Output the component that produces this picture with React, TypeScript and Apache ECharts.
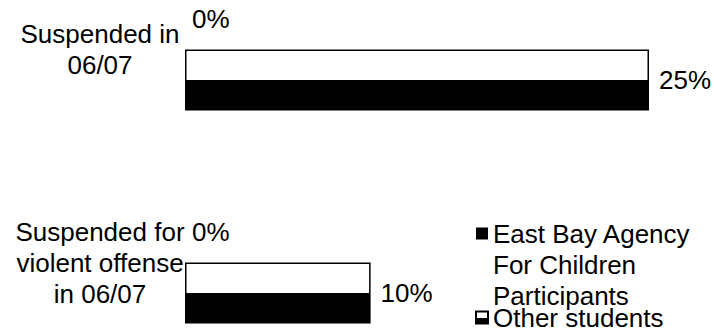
import React, { useEffect, useRef } from "react";
import * as echarts from "echarts";

// Suspension outcomes for 2006/07
const categories = ["Suspended in\n06/07", "Suspended for\nviolent offense\nin 06/07"];
const seriesNames = ["East Bay Agency\nFor Children\nParticipants", "Other students"];
const participantValues = [0, 0];
const otherStudentValues = [25, 10];

const FONT = "'Liberation Sans', Arial, sans-serif";

export default function App() {
  const ref = useRef<HTMLDivElement>(null);

  useEffect(() => {
    document.body.style.margin = "0";
    if (!ref.current) return;
    const chart = echarts.init(ref.current, undefined, { renderer: "svg" });

    // upper half white, lower half black
    const halfFill = {
      type: "linear",
      x: 0,
      y: 0,
      x2: 0,
      y2: 1,
      colorStops: [
        { offset: 0, color: "#ffffff" },
        { offset: 0.5, color: "#ffffff" },
        { offset: 0.5, color: "#000000" },
        { offset: 1, color: "#000000" },
      ],
    };

    chart.setOption({
      animation: false,
      backgroundColor: "#ffffff",
      textStyle: { fontFamily: FONT, color: "#000" },
      grid: {
        left: 185,
        right: 65,
        top: -57,
        bottom: -37,
        containLabel: false,
        outerBoundsMode: "none",
      },
      xAxis: {
        type: "value",
        min: 0,
        max: 25,
        show: false,
        splitLine: { show: false },
      },
      yAxis: {
        type: "category",
        inverse: true,
        data: categories,
        axisLine: { show: false },
        axisTick: { show: false },
        axisLabel: {
          align: "center",
          margin: 85,
          fontSize: 26,
          lineHeight: 31,
          color: "#000",
          fontFamily: FONT,
        },
      },
      legend: {
        orient: "vertical",
        left: 475,
        top: 156,
        height: 400,
        padding: 0,
        icon: "rect",
        itemWidth: 12,
        itemHeight: 12,
        itemGap: -9,
        // first item's lines start level with its marker
        formatter: (name: string) => (name === seriesNames[0] ? "\n\n" + name : name),
        textStyle: { fontSize: 26, lineHeight: 31, color: "#000", fontFamily: FONT },
        data: seriesNames,
      },
      series: [
        {
          name: seriesNames[0],
          type: "bar",
          data: participantValues,
          barWidth: 61,
          barGap: "0%",
          itemStyle: { color: "#000", borderWidth: 0 },
          label: {
            show: true,
            position: "right",
            distance: 7,
            formatter: "{c}%",
            fontSize: 26,
            color: "#000",
            fontFamily: FONT,
          },
        },
        {
          name: seriesNames[1],
          type: "bar",
          data: otherStudentValues,
          barWidth: 61,
          barGap: "0%",
          itemStyle: { color: halfFill, borderColor: "#000", borderWidth: 1.5 },
          label: {
            show: true,
            position: "right",
            distance: 10,
            formatter: "{c}%",
            fontSize: 26,
            color: "#000",
            fontFamily: FONT,
          },
        },
      ],
    });

    return () => chart.dispose();
  }, []);

  return <div ref={ref} style={{ width: 714, height: 332 }} />;
}
